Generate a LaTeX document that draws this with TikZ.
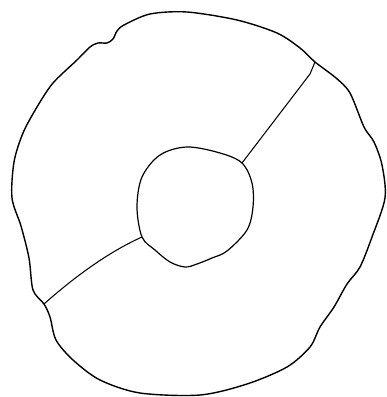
\documentclass[tikz,border=0pt]{standalone}
\usepackage{tikz}
\usetikzlibrary{calc}

\begin{document}
\begin{tikzpicture}[
    x=1pt, y=-1pt,
    rim/.style={draw, line width=1.4pt, line join=round},
    core/.style={draw, line width=1.2pt, line join=round},
    divider/.style={draw, line width=1.05pt, line cap=round}
]
    \useasboundingbox (0,0) rectangle (387,397);

    % Junctions
    \coordinate (o1) at (315,62);
    \coordinate (j1) at (242,163);
    \coordinate (o2) at (44,304);
    \coordinate (j2) at (142,237);

    % Outer boundary
    \draw[rim] plot[smooth cycle, tension=0.5] coordinates {
        (187,12) (237,20) (277,33) (300,48) (315,62) (336,78) (350,93)
        (364,127) (374,142) (382,165) (385,198) (372,237) (360,267)
        (347,284) (334,307) (320,327) (310,347) (287,367)
        (247,384) (200,395) (140,393) (100,380) (73,360) (56,340)
        (50,317) (44,304) (33,290) (29,258) (21,226) (12,198) (14,162)
        (23,133) (37,107) (53,83) (77,60) (90,47) (98,43) (107,43)
        (113,39) (117,31) (124,25) (150,14)};

    % Inner circle
    \draw[core] plot[smooth cycle, tension=0.55] coordinates {
        (187,147) (220,153) (242,163) (252,183) (253,207) (247,230)
        (227,251) (212,258) (197,264) (185,267) (170,262) (155,250)
        (142,237) (137,207) (142,177) (160,155)};

    % Dividers
    \draw[divider] (j1) -- (310,74) .. controls (313,68) .. (o1);
    \draw[divider] (j2) .. controls (113,250) and (80,272) .. (o2);
\end{tikzpicture}
\end{document}
